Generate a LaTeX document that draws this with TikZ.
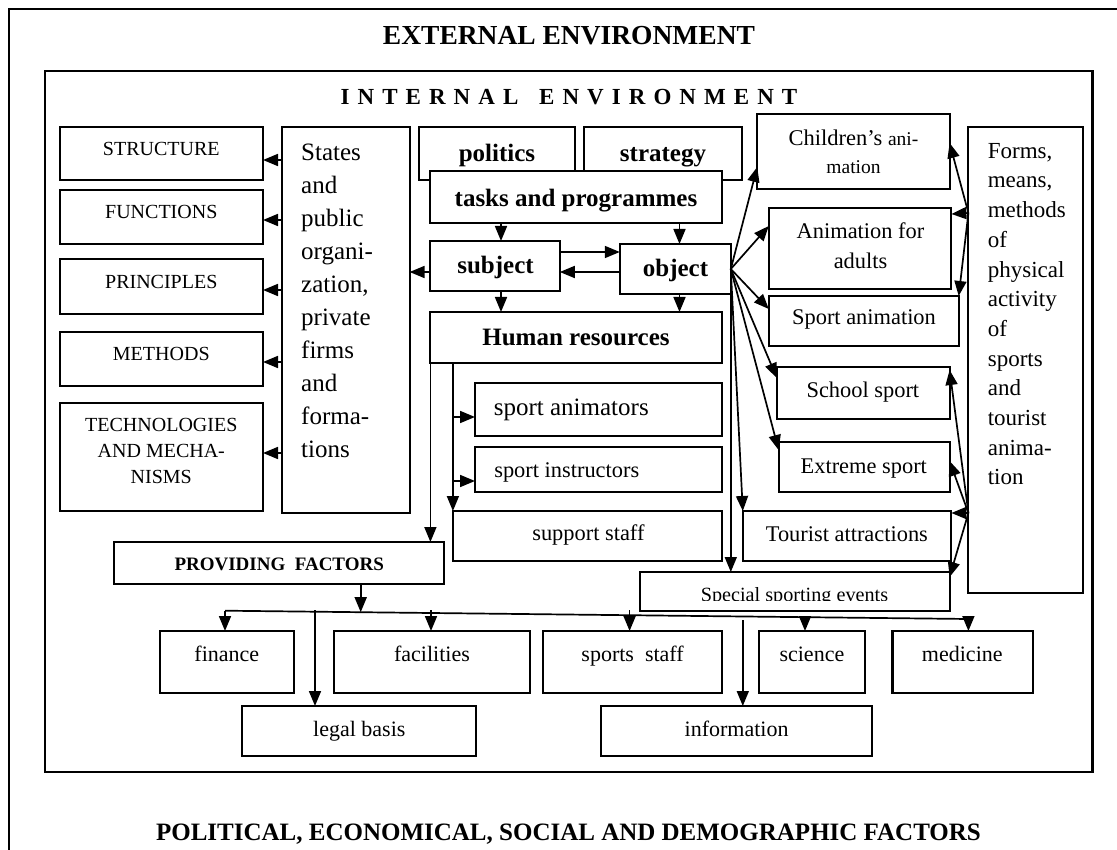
\documentclass[tikz,border=0pt]{standalone}
\usepackage{fontspec}
\setmainfont{Liberation Serif}
\usetikzlibrary{arrows.meta,fit}

\tikzset{
  bx/.style={draw, line width=2.1pt, inner sep=0pt, outer sep=0pt, fill=white},
  frame/.style={draw, line width=2.2pt},
  arr/.style={-{Triangle[length=15pt,width=12pt]}, line width=1.7pt},
  ln/.style={line width=1.7pt},
  lbl/.style={inner sep=0pt, anchor=base, font=\fontsize{22.4}{30}\selectfont},
  capl/.style={lbl, font=\fontsize{20}{25.7}\selectfont},
  bld/.style={lbl, font=\bfseries\fontsize{25}{30}\selectfont},
  btm/.style={lbl, font=\fontsize{22}{28}\selectfont},
}

\newcommand\bbox[5]{%
  \coordinate (#1-a) at (#2,#3);
  \coordinate (#1-b) at (#4,#5);
  \node[bx, fit=(#1-a)(#1-b)] (#1) {};}

\begin{document}
\begin{tikzpicture}[x=1pt,y=-1pt]
\clip (0,0) rectangle (1117,850);

% frames
\draw[frame] (9,9) rectangle (1140,900);
\draw[frame] (44.6,71) rectangle (1092.5,771.7);

% boxes
\bbox{structure}{59.6}{127}{263}{180}
\bbox{functions}{59.6}{190}{263}{244}
\bbox{principles}{59.6}{259}{263}{314}
\bbox{methods}{59.6}{332}{263}{386}
\bbox{tech}{59.6}{403}{263}{511}
\bbox{states}{282}{127}{409.6}{513}
\bbox{politics}{418.6}{127}{575.3}{180}
\bbox{strategy}{584.4}{127}{742.4}{180}
\bbox{tasks}{430.4}{171}{721.8}{223}
\bbox{subject}{430.4}{241}{559.8}{291}
\bbox{object}{619.8}{244}{730.8}{294}
\bbox{hr}{430.4}{312}{721.8}{363}
\bbox{animators}{475}{383}{721.8}{436}
\bbox{instructors}{475}{447}{721.8}{492}
\bbox{support}{452.9}{511}{721.8}{561}
\bbox{providing}{114.3}{542}{444}{584}
\bbox{children}{757.2}{114}{949.6}{189}
\bbox{adults}{768.8}{208}{951.4}{289}
\bbox{sportanim}{768.8}{296}{958.7}{346}
\bbox{school}{776.8}{367}{949.6}{419}
\bbox{extreme}{778.6}{442}{949.6}{492}
\bbox{tourist}{742.8}{511}{951.4}{561}
\bbox{special}{640.4}{572}{949.6}{611}
\bbox{forms}{968.4}{127}{1082.7}{593}
\bbox{finance}{159.6}{631}{293.6}{693}
\bbox{facilities}{334.3}{631}{530.4}{693}
\bbox{sportsstaff}{542.9}{631}{721.8}{693}
\bbox{science}{759}{631}{864.6}{693}
\bbox{medicine}{892.5}{631}{1032.8}{693}
\bbox{legal}{242.1}{706}{476}{756}
\bbox{information}{600.6}{706}{871.9}{756}

% arrows: States to the left boxes
\foreach \b/\y in {structure/160, functions/220, principles/290, methods/362, tech/453}
  \draw[arr] (states.west |- 0,\y) -- (\b.east |- 0,\y);

\draw[arr] (subject.west |- 0,272) -- (states.east |- 0,272);
\draw[arr] (tasks.south -| 501,0) -- (subject.north -| 501,0);
\draw[arr] (tasks.south -| 679.5,0) -- (object.north -| 679.5,0);
\draw[arr] (subject.east |- 0,252) -- (object.west |- 0,252);
\draw[arr] (object.west |- 0,272) -- (subject.east |- 0,272);
\draw[arr] (subject.south -| 501,0) -- (hr.north -| 501,0);
\draw[arr] (object.south -| 679.5,0) -- (hr.north -| 679.5,0);

% human resources branches
\draw[arr] (hr.south west) -- (providing.north -| hr.south west);
\draw[arr] (hr.south -| support.north west) -- (support.north west);
\draw[arr] (support.north west |- 0,417) -- (animators.west |- 0,417);
\draw[arr] (support.north west |- 0,481) -- (instructors.west |- 0,481);

% object fan
\draw[arr] (object.east) -- (children.west |- 0,167);
\draw[arr] (object.east) -- (adults.west |- 0,226);
\draw[arr] (object.east) -- (sportanim.west |- 0,309);
\draw[arr] (object.east) -- (school.west |- 0,378);
\draw[arr] (object.east) -- (extreme.west |- 0,450);
\draw[arr] (object.east) -- (tourist.north west);
\draw[arr] (object.east) -- (special.north -| object.east);

% forms fan
\coordinate (fA) at (forms.west |- 0,213);
\coordinate (fB) at (forms.west |- 0,513);
\draw[arr] (fA) -- (children.east |- 0,143);
\draw[arr] (fA) -- (adults.east |- 0,214);
\draw[arr] (fA) -- (sportanim.north east);
\draw[arr] (fB) -- (school.east |- 0,370);
\draw[arr] (fB) -- (extreme.east |- 0,461);
\draw[arr] (fB) -- (tourist.east |- 0,513);
\draw[arr] (fB) -- (special.east |- 0,577);

% providing factors bus
\coordinate (busL) at (225,610.7);
\coordinate (busR) at (968.4,619);
\coordinate (busP) at (360.7,612.2);
\coordinate (bFac) at (431,610);
\coordinate (bSpo) at (629.6,610);
\coordinate (bSci) at (805,617.2);
\coordinate (bLeg) at (315,610);
\coordinate (bInf) at (742.8,620);
\draw[ln] (busL) -- (busR);
\draw[arr] (providing.south -| busP) -- (busP);
\draw[arr] (busL) -- (finance.north -| busL);
\draw[arr] (bFac) -- (facilities.north -| bFac);
\draw[arr] (bSpo) -- (sportsstaff.north -| bSpo);
\draw[arr] (bSci) -- (science.north -| bSci);
\draw[arr] (busR) -- (medicine.north -| busR);
\draw[arr] (bLeg) -- (legal.north -| bLeg);
\draw[arr] (bInf) -- (information.north -| bInf);

% titles
\node[lbl, font=\bfseries\fontsize{27.5}{30}\selectfont] (t-ext) at (569,45) {EXTERNAL ENVIRONMENT};
\node[lbl, font=\bfseries\fontsize{23}{26}\selectfont\addfontfeatures{LetterSpace=35}] (t-int) at (569,105) {INTERNAL\hspace{7pt} ENVIRONMENT};
\node[lbl, font=\bfseries\fontsize{25}{30}\selectfont] (t-pol) at (568.5,840) {POLITICAL, ECONOMICAL, SOCIAL AND DEMOGRAPHIC FACTORS};

% left column texts
\node[capl] (t-structure) at (161.3,156) {STRUCTURE};
\node[capl] (t-functions) at (161.3,218.3) {FUNCTIONS};
\node[capl] (t-principles) at (161.3,288.3) {PRINCIPLES};
\node[capl] (t-methods) at (161.3,361) {METHODS};
\node[capl, anchor=north, align=center] (t-tech) at (161.3,416.7) {\rule{0pt}{15pt}TECHNOLOGIES\\AND MECHA-\\NISMS};

\node[lbl, anchor=north west, align=left, font=\fontsize{25}{33}\selectfont] (t-states) at (301,140)
  {\rule{0pt}{20pt}States\\and\\public\\organi-\\zation,\\private\\firms\\and\\forma-\\tions};
\node[lbl, anchor=north west, align=left, font=\fontsize{23}{29.7}\selectfont] (t-forms) at (987.6,139)
  {\rule{0pt}{19pt}Forms,\\means,\\methods\\of\\physical\\activity\\of\\sports\\and\\tourist\\anima-\\tion};

% centre texts
\node[bld] (t-politics) at (497,162) {politics};
\node[bld] (t-strategy) at (663,162) {strategy};
\node[bld] (t-tasks) at (576,207) {tasks and programmes};
\node[bld] (t-subject) at (495.5,274) {subject};
\node[bld] (t-object) at (675.5,277) {object};
\node[bld] (t-hr) at (576,346) {Human resources};
\node[lbl, font=\fontsize{25}{30}\selectfont] (t-animators) at (571.3,415) {sport animators};
\node[lbl] (t-instructors) at (566.8,477) {sport instructors};
\node[lbl] (t-support) at (588.4,540) {support staff};

% right column texts
\node[lbl, anchor=north, align=center, font=\fontsize{22.5}{28}\selectfont] (t-children) at (853.5,129)
  {\rule{0pt}{16pt}Children’s {\fontsize{19.5}{28}\selectfont ani-}\\{\fontsize{19.5}{28}\selectfont mation}};
\node[lbl, anchor=north, align=center] (t-adults) at (860.5,222) {\rule{0pt}{16pt}Animation for\\adults};
\node[lbl] (t-sportanim) at (864,325) {Sport animation};
\node[lbl] (t-school) at (862.9,397) {School sport};
\node[lbl] (t-extreme) at (863.8,473) {Extreme sport};
\node[lbl] (t-tourist) at (846.9,541) {Tourist attractions};
\begin{scope}
  \clip (640.4,572) rectangle (949.6,600.5);
  \node[lbl, font=\fontsize{20.2}{24}\selectfont] (t-special) at (794.5,601) {Special sporting events};
\end{scope}

% providing factors texts
\node[lbl, font=\bfseries\fontsize{19}{24}\selectfont] (t-providing) at (279.2,570) {PROVIDING~~FACTORS};
\node[btm] (t-finance) at (226.8,661.7) {finance};
\node[btm] (t-facilities) at (432,661.7) {facilities};
\node[btm] (t-sportsstaff) at (632.6,661.7) {sports~~staff};
\node[btm] (t-science) at (811.9,661.7) {science};
\node[btm] (t-medicine) at (962.3,661.7) {medicine};
\node[btm] (t-legal) at (359.3,736.7) {legal basis};
\node[btm] (t-information) at (736.6,736.7) {information};
\end{tikzpicture}
\end{document}
